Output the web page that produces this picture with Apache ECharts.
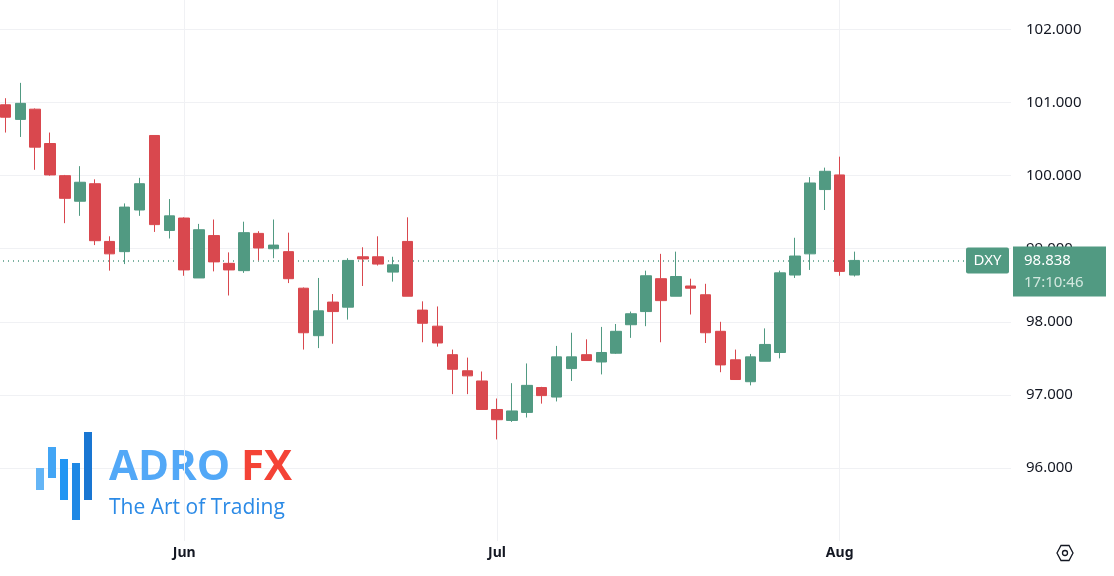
<!DOCTYPE html>
<html>
<head>
<meta charset="utf-8">
<script src="https://cdn.jsdelivr.net/npm/echarts@6/dist/echarts.min.js"></script>
<style>
  html, body { margin: 0; padding: 0; background: #fff; }
  #main { width: 1114px; height: 576px; }
</style>
</head>
<body>
<div id="main"></div>
<script>
// daily DXY candles, May 15 .. Aug 4 2025 (weekdays)
var opens  = [100.97,100.77,100.91,100.44,100.00,99.65,99.89,99.10,98.96,99.53,100.55,99.25,
  99.42,98.60,99.18,98.80,98.70,99.21,99.00,98.96,98.46,97.81,98.27,98.20,98.89,98.89,98.68,99.10,98.16,97.94,97.55,97.33,97.19,
  96.80,96.65,96.76,97.10,96.97,97.36,97.55,97.45,97.57,97.96,98.14,98.59,98.35,98.49,98.37,97.87,97.48,97.18,97.46,97.58,98.64,98.93,99.81,
  100.01,98.64];
var closes = [100.80,100.99,100.39,100.01,99.69,99.91,99.11,98.93,99.57,99.89,99.33,99.45,
  98.71,99.26,98.82,98.71,99.22,99.01,99.05,98.59,97.85,98.15,98.14,98.84,98.86,98.79,98.78,98.35,97.98,97.71,97.35,97.26,96.80,
  96.66,96.78,97.13,96.99,97.52,97.52,97.47,97.58,97.87,98.11,98.63,98.29,98.62,98.46,97.85,97.41,97.21,97.52,97.69,98.67,98.90,99.90,100.06,
  98.69,98.84];
var lows   = [100.59,100.53,100.08,100.00,99.35,99.45,99.05,98.70,98.79,99.45,99.23,99.14,
  98.63,98.60,98.69,98.36,98.67,98.84,98.87,98.53,97.62,97.64,97.70,98.03,98.49,98.77,98.55,98.35,97.72,97.66,97.01,97.01,96.80,
  96.39,96.63,96.69,96.88,96.91,97.19,97.47,97.28,97.56,97.78,97.94,97.72,98.35,98.10,97.71,97.31,97.21,97.13,97.46,97.50,98.60,98.71,99.53,
  98.63,98.62];
var highs  = [101.06,101.27,100.92,100.59,100.01,100.13,99.95,99.17,99.62,99.97,100.55,99.68,
  99.43,99.34,99.40,98.95,99.37,99.24,99.40,99.22,98.47,98.60,98.38,98.87,99.02,99.17,98.89,99.43,98.28,98.21,97.62,97.51,97.32,
  96.95,97.16,97.43,97.11,97.67,97.85,97.76,97.93,97.97,98.14,98.70,98.93,98.96,98.59,98.52,98.00,97.62,97.56,97.91,98.70,99.15,99.98,100.11,
  100.26,98.96];
var lastPrice = 98.838;
var lastTime = '17:10:46';
var yTicks = [96, 97, 98, 99, 100, 101, 102];
var monthLabels = { '2025-06-02': 'Jun', '2025-07-01': 'Jul', '2025-08-01': 'Aug' };

// 68 weekday slots, the tail left empty like the chart's right margin
var categories = [];
var d = new Date(Date.UTC(2025, 4, 15));
while (categories.length < 68) {
  var wd = d.getUTCDay();
  if (wd !== 0 && wd !== 6) categories.push(d.toISOString().slice(0, 10));
  d.setUTCDate(d.getUTCDate() + 1);
}

var candles = opens.map(function (o, i) { return [o, closes[i], lows[i], highs[i]]; });

var UP = '#519a82', DOWN = '#d9484e', GRID = '#f0f1f4';
var chart = echarts.init(document.getElementById('main'));

chart.setOption({
  animation: false,
  grid: {
    left: -2, right: 103, top: -7, bottom: 35,
    outerBoundsMode: 'none', containLabel: false,
    show: false, borderWidth: 0
  },
  xAxis: {
    type: 'category',
    data: categories,
    boundaryGap: true,
    axisLine: { show: false },
    axisTick: { show: false },
    splitLine: { show: false },
    axisLabel: {
      interval: 0,
      margin: 5,
      color: '#131722',
      fontFamily: 'Noto Sans',
      fontSize: 14,
      fontWeight: 'bold',
      formatter: function (v) { return monthLabels[v] || ''; }
    }
  },
  yAxis: {
    type: 'value',
    position: 'right',
    min: 95,
    max: 102.5,
    interval: 1,
    axisLine: { show: false },
    axisTick: { show: false },
    splitLine: { lineStyle: { color: ['transparent', GRID, GRID, GRID, GRID, GRID, GRID, GRID], width: 1 } },
    axisLabel: {
      margin: 15,
      color: '#131722',
      fontFamily: 'Noto Sans',
      fontSize: 15,
      formatter: function (v) { return yTicks.indexOf(v) >= 0 ? v.toFixed(3) : ''; }
    }
  },
  series: [{
    type: 'candlestick',
    data: candles,
    barWidth: 11,
    itemStyle: { color: UP, color0: DOWN, borderColor: UP, borderColor0: DOWN, borderWidth: 1 },
    markLine: {
      silent: true,
      symbol: 'none',
      data: [
        { xAxis: '2025-06-02', lineStyle: { color: GRID, type: 'solid', width: 1 }, label: { show: false } },
        { xAxis: '2025-07-01', lineStyle: { color: GRID, type: 'solid', width: 1 }, label: { show: false } },
        { xAxis: '2025-08-01', lineStyle: { color: GRID, type: 'solid', width: 1 }, label: { show: false } },
        { yAxis: lastPrice, lineStyle: { color: UP, type: [1, 4], width: 1.5 }, label: { show: false } }
      ]
    },
    z: 5
  }]
});

// price badges on the right axis, pinned to the last price
var py = chart.convertToPixel({ yAxisIndex: 0 }, lastPrice);
chart.setOption({
  graphic: [
    { type: 'rect', shape: { x: 966, y: py - 13, width: 43, height: 26, r: 2 }, style: { fill: UP }, z: 10 },
    { type: 'text', x: 987.5, y: py, style: { text: 'DXY', fill: '#fff', font: '15px "Noto Sans"', align: 'center', verticalAlign: 'middle' }, z: 11 },
    { type: 'rect', shape: { x: 1013, y: py - 14, width: 93, height: 50 }, style: { fill: UP }, z: 10 },
    { type: 'text', x: 1024, y: py, style: { text: lastPrice.toFixed(3), fill: '#fff', font: '15px "Noto Sans"', verticalAlign: 'middle' }, z: 11 },
    { type: 'text', x: 1024, y: py + 22, style: { text: lastTime, fill: '#d3e8df', font: '15px "Noto Sans"', verticalAlign: 'middle' }, z: 11 },
    // ADROFX watermark
    { type: 'rect', shape: { x: 36, y: 468, width: 8, height: 22 }, style: { fill: '#64b5f6' }, z: 1 },
    { type: 'rect', shape: { x: 48, y: 447, width: 8, height: 31 }, style: { fill: '#42a5f5' }, z: 1 },
    { type: 'rect', shape: { x: 60, y: 459, width: 8, height: 41 }, style: { fill: '#2196f3' }, z: 1 },
    { type: 'rect', shape: { x: 72, y: 463, width: 8, height: 57 }, style: { fill: '#1e88e5' }, z: 1 },
    { type: 'rect', shape: { x: 84, y: 432, width: 8, height: 68 }, style: { fill: '#1976d2' }, z: 1 },
    { type: 'text', x: 109, y: 489, style: { text: 'ADRO', fill: '#52a8f7', font: 'bold 42px "Open Sans"', verticalAlign: 'bottom' }, z: 1 },
    { type: 'text', x: 241, y: 489, style: { text: 'FX', fill: '#f44336', font: 'bold 42px "Open Sans"', verticalAlign: 'bottom' }, z: 1 },
    { type: 'text', x: 109, y: 508, style: { text: 'The Art of Trading', fill: '#2b8ae6', font: '21px "Open Sans"', verticalAlign: 'middle' }, z: 1 },
    // settings glyph
    { type: 'polygon', shape: { points: [[1057, 553], [1061, 545.5], [1069, 545.5], [1073, 553], [1069, 560.5], [1061, 560.5]] }, style: { fill: 'none', stroke: '#131722', lineWidth: 1.3 }, z: 1 },
    { type: 'circle', shape: { cx: 1065, cy: 553, r: 2.5 }, style: { fill: 'none', stroke: '#131722', lineWidth: 1.3 }, z: 1 }
  ]
});
</script>
</body>
</html>
